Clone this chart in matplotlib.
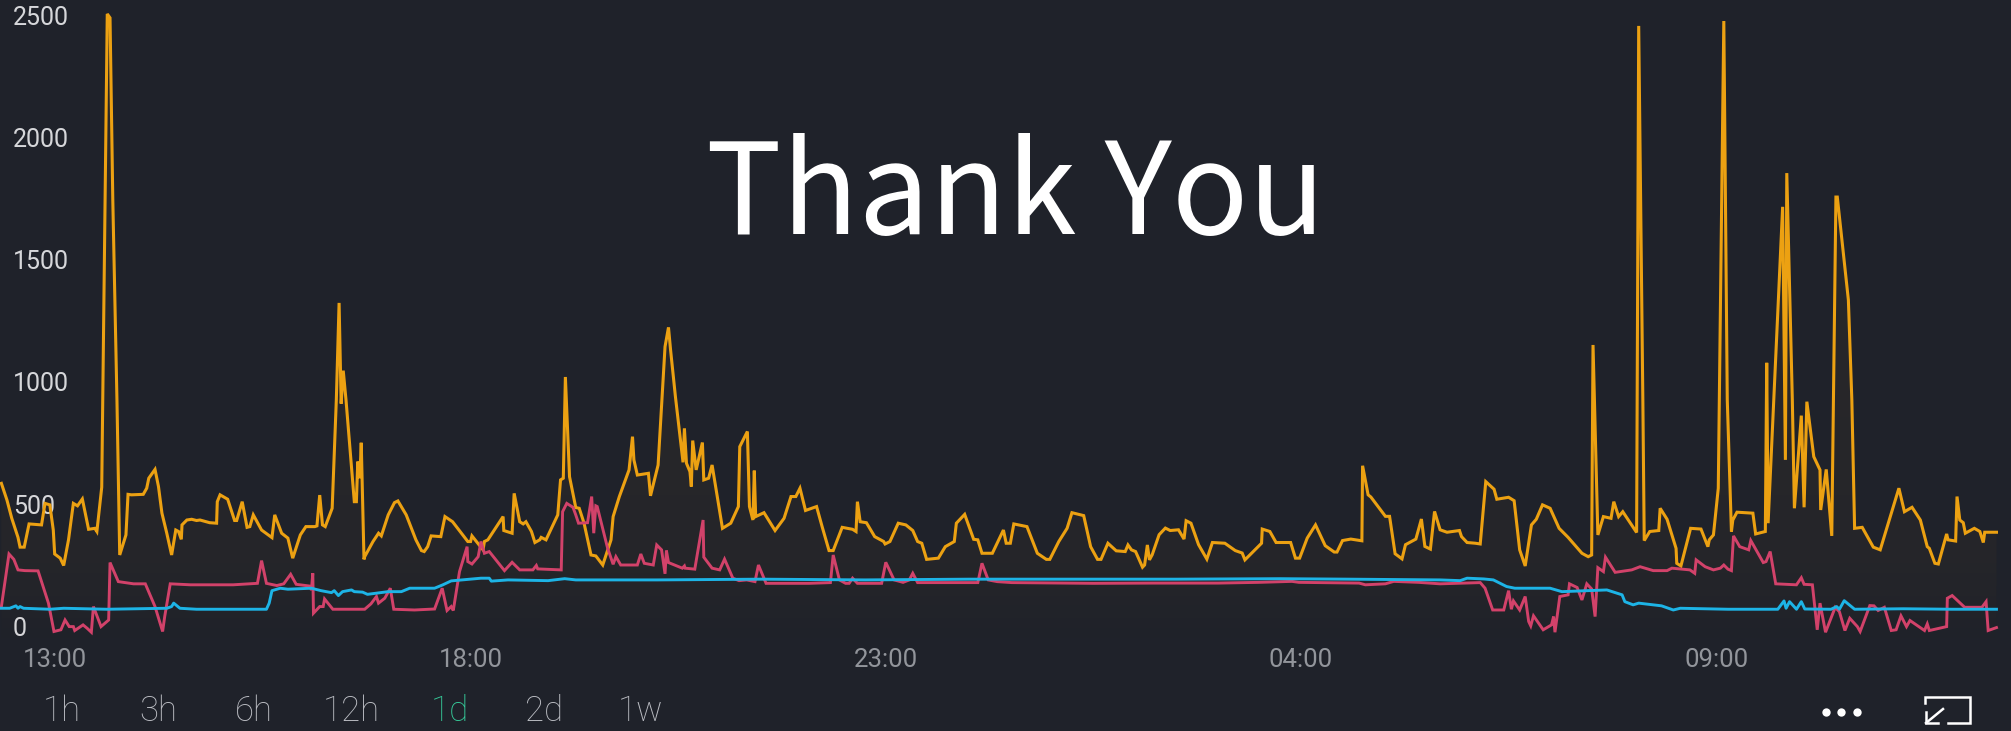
import matplotlib
matplotlib.use("Agg")
import matplotlib.pyplot as plt
import numpy as np

# x is in 5 minute samples, 13:00 is sample 8
orange_x = [0.2, 1.0, 1.7, 2.6, 2.9, 3.5, 4.2, 6.0, 6.5, 7.2, 7.7, 7.9, 8.7, 9.2, 9.9, 10.6, 11.2, 11.9, 12.8, 13.7,
            14.0, 14.7, 15.5, 15.9, 16.3, 16.9, 17.3, 18.2, 18.5, 19.0, 20.7, 21.2, 21.5, 22.4, 22.9, 23.4, 24.1, 24.8,
            25.4, 25.8, 26.2, 26.3, 27.0, 27.7, 28.4, 28.9, 30.3, 31.3, 31.4, 31.8, 32.9, 33.9, 34.2, 35.0, 35.7, 36.1,
            36.6, 37.8, 39.3, 39.7, 40.7, 41.6, 42.3, 43.4, 44.2, 45.5, 45.8, 46.2, 46.6, 47.0, 48.0, 48.6, 49.0, 49.3,
            49.6, 50.0, 51.2, 51.5, 51.7, 52.0, 52.2, 52.6, 52.7, 53.9, 54.7, 55.1, 56.1, 57.0, 57.5, 58.7, 60.1, 60.9,
            61.3, 61.8, 62.3, 63.7, 64.3, 65.4, 67.6, 68.0, 68.2, 69.8, 70.0, 70.5, 72.7, 72.8, 74.0, 74.3, 75.1, 75.6,
            76.0, 76.8, 77.3, 78.0, 78.2, 78.9, 80.6, 81.0, 81.4, 81.7, 82.3, 83.2, 83.7, 84.4, 85.4, 86.1, 87.1, 88.3,
            88.6, 89.5, 90.9, 91.4, 91.6, 92.1, 93.7, 94.0, 95.1, 96.1, 96.6, 96.9, 97.6, 98.7, 98.9, 99.2, 99.7, 99.9,
            100.1, 100.6, 101.5, 101.7, 102.4, 102.9, 104.4, 105.6, 106.7, 106.9, 108.0, 108.3, 108.8, 109.0, 109.2,
            110.4, 112.0, 113.3, 114.3, 115.0, 115.6, 116.4, 118.0, 118.8, 119.8, 120.4, 121.7, 123.2, 123.7, 123.9,
            124.3, 125.2, 126.4, 127.7, 127.9, 128.6, 129.8, 130.9, 131.9, 132.6, 133.2, 133.9, 135.6, 136.6, 137.9,
            138.2, 139.4, 140.7, 141.3, 141.9, 143.4, 145.0, 145.4, 146.0, 146.5, 148.4, 149.9, 151.2, 151.7, 153.0,
            154.2, 154.9, 156.6, 157.6, 158.6, 159.1, 160.1, 161.3, 162.6, 163.0, 163.5, 164.1, 165.1, 165.4, 165.8,
            166.1, 166.5, 167.5, 168.4, 169.1, 170.3, 171.1, 171.4, 172.1, 173.2, 174.4, 175.2, 177.0, 178.5, 179.5,
            179.9, 182.3, 182.4, 183.5, 184.4, 186.5, 187.2, 187.8, 188.9, 190.1, 191.5, 192.8, 193.2, 194.0, 195.2,
            196.8, 196.9, 197.7, 198.1, 200.2, 200.8, 201.6, 202.6, 203.1, 204.6, 205.4, 205.9, 206.7, 207.3, 208.1,
            209.1, 210.9, 211.2, 212.0, 213.2, 213.9, 214.7, 215.9, 216.3, 218.0, 218.8, 219.6, 220.4, 221.3, 222.0,
            222.9, 224.0, 225.3, 226.6, 228.6, 229.5, 230.0, 230.2, 230.9, 231.7, 232.8, 233.2, 233.9, 234.5, 236.5,
            236.8, 237.4, 237.6, 238.4, 239.7, 239.9, 240.9, 241.6, 242.2, 242.3, 242.9, 244.3, 245.8, 246.8, 247.0,
            247.6, 248.3, 249.1, 249.6, 250.2, 250.4, 251.0, 253.3, 253.7, 255.1, 255.3, 255.5, 257.6, 258.0, 258.2,
            259.0, 259.3, 260.3, 260.7, 261.1, 262.1, 263.0, 263.1, 263.9, 264.7, 265.3, 265.5, 267.1, 267.6, 268.0,
            269.1, 270.7, 271.7, 273.3, 274.4, 275.2, 276.3, 277.5, 278.5, 278.8, 279.6, 280.1, 281.3, 281.5, 282.6,
            282.8, 283.2, 283.7, 284.0, 285.3, 286.1, 286.6, 286.8, 288.5]
orange_y = [624, 556, 481, 403, 363, 363, 458, 454, 542, 536, 433, 335, 318, 288, 393, 542, 532, 560, 436, 440,
            427, 608, 2544, 2528, 1783, 965, 331, 413, 579, 577, 579, 604, 645, 681, 611, 502, 420, 331,
            433, 427, 395, 454, 474, 477, 472, 474, 463, 461, 549, 577, 559, 472, 472, 549, 444, 447,
            495, 433, 402, 495, 420, 400, 318, 413, 447, 447, 450, 576, 454, 447, 522, 965, 1362, 950,
            1085, 965, 549, 549, 713, 645, 790, 313, 324, 386, 420, 409, 495, 545, 552, 495, 393, 349,
            345, 365, 409, 406, 488, 467, 386, 386, 409, 352, 386, 393, 488, 431, 420, 583, 467, 458,
            467, 427, 382, 393, 403, 393, 495, 638, 645, 1059, 651, 525, 522, 461, 331, 327, 290, 393,
            488, 570, 679, 815, 720, 658, 665, 573, 699, 1183, 1262, 1170, 979, 710, 849, 706, 672, 611,
            799, 679, 791, 638, 645, 699, 440, 461, 529, 774, 836, 529, 474, 676, 488,
            504, 431, 481, 570, 570, 604, 513, 529, 447, 349, 349, 444, 436, 427, 549,
            467, 463, 406, 386, 376, 386, 461, 454, 431, 386, 379, 313, 318, 365, 386,
            461, 497, 395, 393, 338, 338, 433, 379, 379, 458, 447, 338, 313, 313, 386,
            440, 504, 492, 365, 313, 313, 379, 348, 345, 372, 352, 345, 281, 290, 372,
            311, 332, 414, 441, 431, 434, 396, 471, 461, 373, 314, 382, 379, 349, 339,
            311, 379, 437, 427, 382, 382, 318, 318, 400, 454, 369, 343, 343, 390, 396,
            389, 696, 577, 568, 489, 489, 336, 315, 373, 396, 478, 366, 355, 509, 434,
            424, 431, 406, 382, 379, 376, 631, 600, 559, 567, 553, 352, 286, 454, 477,
            536, 522, 440, 403, 338, 324, 331, 1190, 413, 488, 481, 549, 488, 508, 423,
            2495, 965, 390, 427, 431, 522, 477, 413, 358, 297, 286, 440, 437, 365, 393,
            413, 604, 2515, 965, 427, 474, 506, 502, 417, 427, 1117, 461, 1755, 720, 1893,
            965, 522, 901, 526, 958, 733, 679, 515, 681, 409, 1795, 1795, 1374, 965, 440,
            444, 363, 352, 502, 604, 508, 526, 474, 365, 358, 297, 294, 417, 393, 388,
            570, 474, 463, 420, 440, 427, 382, 424, 424]

red_x = [0.2, 1.3, 2.0, 2.6, 3.6, 5.5, 7.0, 7.8, 8.8, 9.4, 10.0, 10.6, 10.8, 12.0, 12.6, 13.2, 13.5, 14.6, 15.7, 15.9,
         17.1, 19.3, 21.0, 22.4, 23.5, 23.8, 24.6, 27.5, 33.7, 37.2, 37.8, 38.5, 40.0, 41.0, 42.0, 42.8, 44.7, 45.0,
         45.2, 45.3, 46.2, 46.7, 46.9, 48.1, 52.7, 53.6, 54.4, 54.7, 55.6, 56.4, 56.9, 59.9, 62.8, 63.9, 64.6, 65.2,
         65.5, 66.4, 67.5, 67.6, 68.2, 69.1, 69.5, 70.0, 70.7, 72.9, 74.0, 75.1, 77.0, 77.5, 77.7, 81.1, 81.3, 81.9,
         82.8, 83.2, 83.6, 84.9, 85.5, 85.8, 86.1, 86.3, 87.8, 88.6, 89.0, 89.7, 92.1, 92.6, 93.1, 94.4, 94.9, 95.6,
         96.1, 96.3, 96.6, 98.6, 98.9, 99.0, 100.4, 101.6, 101.7, 102.9, 104.0, 104.7, 105.9, 106.8, 107.9, 109.1,
         109.6, 110.7, 113.5, 116.9, 120.0, 120.4, 121.3, 122.2, 122.7, 123.2, 123.9, 127.4, 128.0, 129.2, 130.5,
         131.4, 131.9, 132.6, 141.3, 141.9, 142.8, 144.1, 146.2, 158.0, 166.5, 176.0, 181.9, 186.7, 187.7, 196.4,
         197.3, 200.2, 201.4, 205.0, 208.1, 210.5, 213.9, 214.6, 215.7, 217.3, 218.0, 218.4, 218.7, 219.6, 220.4,
         220.9, 221.2, 221.6, 223.0, 224.2, 224.5, 224.7, 225.4, 226.6, 226.8, 227.9, 228.6, 229.3, 230.0, 230.5,
         230.9, 231.7, 232.0, 233.4, 235.8, 237.0, 238.9, 240.9, 241.6, 244.2, 244.9, 245.1, 246.4, 247.6, 248.6,
         249.1, 249.7, 250.2, 250.5, 251.4, 252.7, 253.0, 254.8, 255.2, 255.8, 256.6, 259.6, 260.3, 260.7, 261.9,
         262.6, 263.0, 263.8, 265.2, 265.8, 266.6, 267.3, 268.4, 268.8, 270.2, 270.8, 271.4, 272.3, 273.3, 274.0,
         274.7, 275.5, 276.0, 278.1, 278.5, 278.8, 281.3, 281.4, 282.1, 283.9, 286.4, 287.0, 287.3, 288.5]
red_y = [120, 335, 313, 270, 267, 266, 134, 18, 25, 65, 38, 38, 22, 45, 31, 15, 120, 38, 65, 300,
         222, 213, 213, 120, 18, 79, 213, 209, 209, 215, 308, 215, 206, 213, 252, 211, 204, 188,
         256, 93, 120, 120, 151, 109, 109, 131, 161, 134, 154, 195, 109, 106, 110, 195, 104, 120,
         104, 263, 365, 304, 294, 324, 386, 338, 345, 267, 301, 270, 270, 288, 274, 270, 508, 542,
         526, 495, 461, 463, 570, 420, 532, 529, 359, 293, 324, 290, 290, 335, 297, 290, 372, 352,
         254, 349, 300, 277, 286, 277, 273, 474, 322, 277, 270, 314, 236, 226, 229, 222,
         290, 215, 215, 215, 218, 331, 229, 215, 215, 236, 215, 215, 301, 229, 219,
         229, 256, 218, 218, 297, 229, 222, 218, 215, 216, 216, 219, 223, 219, 216,
         209, 213, 223, 219, 213, 215, 218, 195, 106, 106, 185, 109, 143, 106, 161,
         59, 41, 82, 25, 45, 79, 15, 161, 168, 213, 198, 147, 213, 192, 79,
         279, 263, 322, 260, 270, 283, 267, 267, 277, 270, 256, 311, 283, 270, 277,
         290, 273, 267, 409, 365, 352, 390, 300, 304, 345, 213, 209, 238, 211, 209,
         25, 134, 15, 117, 99, 22, 72, 38, 18, 124, 123, 104, 117, 22, 25,
         82, 38, 63, 22, 49, 22, 38, 154, 165, 117, 117, 140, 22, 34]

blue_x = [0.0, 1.4, 2.3, 2.6, 2.9, 3.4, 7.2, 9.2, 15.4, 24.1, 24.8, 25.1, 26.0, 28.4, 38.5, 38.9, 39.3, 40.5, 41.6,
          45.0, 46.4, 47.9, 48.3, 48.9, 49.5, 50.8, 51.2, 52.4, 53.1, 56.1, 58.0, 59.2, 62.8, 64.0, 65.2, 69.5, 70.7,
          71.0, 73.4, 79.2, 81.6, 83.2, 95.0, 110.0, 125.0, 140.0, 155.0, 170.0, 185.0, 195.0, 208.1, 211.0, 212.0,
          214.4, 215.8, 217.7, 218.9, 224.0, 225.7, 232.2, 234.4, 234.8, 236.0, 236.8, 240.1, 241.8, 242.8, 249.7,
          256.9, 257.8, 258.1, 258.6, 259.6, 260.3, 260.8, 264.6, 265.4, 265.8, 266.5, 268.0, 275.0, 282.0, 288.5]
blue_y = [113, 113, 123, 113, 120, 113, 109, 113, 109, 113, 120, 134, 113, 109, 109, 134, 185, 195, 191,
          195, 185, 177, 185, 165, 181, 188, 181, 179, 170, 181, 181, 195, 195, 209, 225, 236, 236,
          224, 229, 226, 234, 229, 229, 232, 229, 232, 232, 232, 234, 232, 229, 226, 236,
          233, 229, 202, 195, 195, 181, 188, 168, 140, 127, 134, 123, 106, 113, 109,
          109, 143, 113, 140, 109, 140, 110, 109, 120, 109, 144, 109, 111, 109, 109]

hour_ticks = [8, 68, 128, 188, 248]
hour_labels = ["13:00", "18:00", "23:00", "04:00", "09:00"]
value_ticks = [0, 500, 1000, 1500, 2000, 2500]
ranges = ["1h", "3h", "6h", "12h", "1d", "2d", "1w"]
range_centers = [62, 158, 254, 351, 450, 544, 641]

bg = "#1f222a"
orange = "#eca112"
red = "#d2426a"
blue = "#1db4e6"

plt.rcParams["font.family"] = ["Roboto", "DejaVu Sans"]

fig = plt.figure(figsize=(20.11, 7.31), dpi=100, facecolor=bg)
ax = fig.add_axes([0, 0, 1, 1], facecolor=bg)

# faint fill under the orange line, fading out towards the bottom
area = ax.fill_between(orange_x, orange_y, -60, color="none", linewidth=0)
fade = np.zeros((200, 2, 4))
fade[:, :, :3] = matplotlib.colors.to_rgb(orange)
fade[:, :, 3] = np.interp(np.linspace(-60, 2600, 200), [-60, 300, 2600], [0.0, 0.032, 0.06])[:, None]
img = ax.imshow(fade, origin="lower", extent=[0, 290.6, -60, 2600], aspect="auto", zorder=2)
img.set_clip_path(area.get_paths()[0], area.get_transform())

ax.plot(orange_x, orange_y, color=orange, linewidth=2.2, solid_joinstyle="miter", zorder=3)
ax.plot(red_x, red_y, color=red, linewidth=2.1, solid_joinstyle="miter", zorder=4)
ax.plot(blue_x, blue_y, color=blue, linewidth=2.1, zorder=5)

ax.set_xlim(0, 290.6)
ax.set_ylim(-389, 2601)
for s in ax.spines.values():
    s.set_visible(False)

ax.set_xticks(hour_ticks)
ax.set_xticklabels(hour_labels, fontsize=18.5, color="#92959b")
ax.tick_params(axis="x", length=0, pad=-60)
ax.set_yticks(value_ticks)
ax.set_yticklabels(value_ticks, fontsize=18, color="#d6d7da")
ax.tick_params(axis="y", length=0, pad=-9.4)
for lab in ax.get_yticklabels():
    lab.set_verticalalignment("baseline")
    lab.set_horizontalalignment("left")

# second axes in pixels for the title and the bottom bar
ui = fig.add_axes([0, 0, 1, 1])
ui.set_xlim(0, 2011)
ui.set_ylim(731, 0)
ui.axis("off")

ui.text(1016, 234, "Thank You", fontsize=91, color="white", ha="center", va="baseline",
        family=["Noto Sans CJK SC", "DejaVu Sans"])

for name, cx in zip(ranges, range_centers):
    col = "#36cc9a" if name == "1d" else "#bcbec4"
    ui.text(cx, 711, name, fontsize=25, fontweight="light", color=col, ha="center", va="center")

ui.plot([1826, 1841, 1857], [712, 712, 712], "o", color="white", markersize=6, markeredgewidth=0)

ui.plot([1925, 1925, 1970, 1970, 1948], [703, 697, 697, 723, 723], color="white", linewidth=1.8, solid_joinstyle="miter")
ui.plot([1943, 1926], [709, 723], color="white", linewidth=1.8)
ui.plot([1926, 1926, 1938], [712, 723, 723], color="white", linewidth=1.8, solid_joinstyle="miter")

fig.savefig("out.png", dpi=100, facecolor=bg)
